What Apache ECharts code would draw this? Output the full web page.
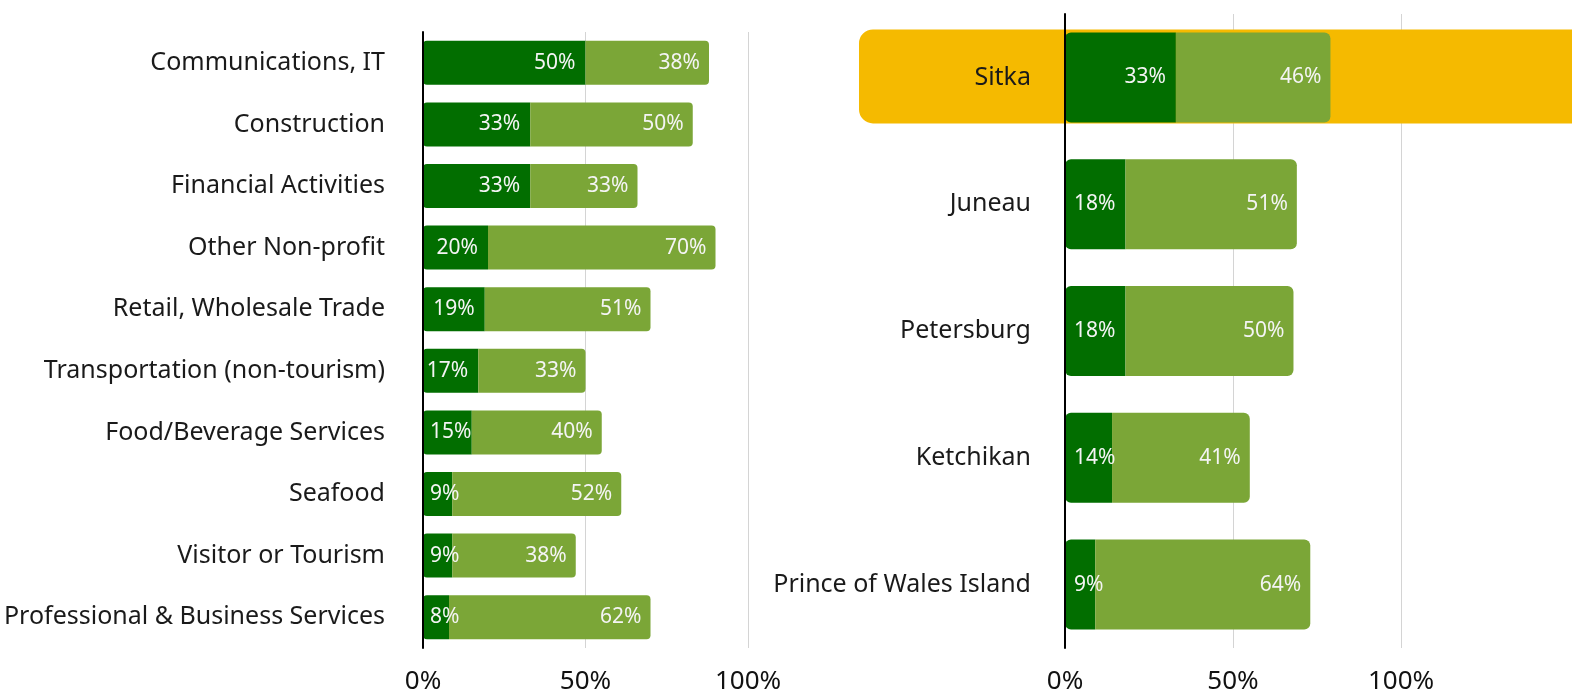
<!DOCTYPE html>
<html>
<head>
<meta charset="utf-8">
<script src="https://cdn.jsdelivr.net/npm/echarts@6/dist/echarts.min.js"></script>
<style>
  html, body { margin: 0; padding: 0; background: #fff; }
  #chart { width: 1572px; height: 696px; }
</style>
</head>
<body>
<div id="chart"></div>
<script>
// left panel: industry
const sectors = ['Communications, IT', 'Construction', 'Financial Activities', 'Other Non-profit',
  'Retail, Wholesale Trade', 'Transportation (non-tourism)', 'Food/Beverage Services', 'Seafood',
  'Visitor or Tourism', 'Professional & Business Services'];
const sectorDark = [50, 33, 33, 20, 19, 17, 15, 9, 9, 8];
const sectorLight = [38, 50, 33, 70, 51, 33, 40, 52, 38, 62];

// right panel: community
const towns = ['Sitka', 'Juneau', 'Petersburg', 'Ketchikan', 'Prince of Wales Island'];
const townDark = [33, 18, 18, 14, 9];
const townLight = [46, 51, 50, 41, 64];
const highlightTown = 'Sitka';

const leftTicks = [0, 50, 100];
const rightTicks = [0, 50, 100];

const DARK = '#026e00';
const LIGHT = '#7ba637';
const FONT = 'Noto Sans';

let chart = echarts.init(document.getElementById('chart'));

function darkData(vals, dist) {
  return vals.map(v => ({
    value: v,
    label: v < 16 ? { position: 'insideLeft', distance: dist } : { position: 'insideRight', distance: 10 }
  }));
}

const barLabel = {
  show: true, color: '#f4f4f4', fontSize: 21, fontFamily: FONT,
  formatter: p => p.value + '%'
};

chart.setOption({
  animation: false,
  grid: [
    { left: 423, width: 325, top: 32, bottom: 48 },
    { left: 1065, width: 512, top: 14, bottom: 48 }
  ],
  xAxis: [
    {
      gridIndex: 0, type: 'value', min: 0, max: 100, interval: 50,
      axisLine: { show: false }, axisTick: { show: false },
      splitLine: { lineStyle: { color: '#d4d4d4', width: 1 } },
      axisLabel: { fontSize: 26, color: '#111', fontFamily: FONT, margin: 21,
        formatter: v => leftTicks.includes(v) ? v + '%' : '' }
    },
    {
      gridIndex: 1, type: 'value', min: 0, max: 150, interval: 50,
      axisLine: { show: false }, axisTick: { show: false },
      splitLine: { lineStyle: { color: ['#d4d4d4', '#d4d4d4', '#d4d4d4', 'rgba(0,0,0,0)'], width: 1 } },
      axisLabel: { fontSize: 26, color: '#111', fontFamily: FONT, margin: 21,
        formatter: v => rightTicks.includes(v) ? v + '%' : '' }
    }
  ],
  yAxis: [
    {
      gridIndex: 0, type: 'category', data: sectors, inverse: true, z: 3,
      axisLine: { lineStyle: { color: '#000', width: 2 } }, axisTick: { show: false },
      axisLabel: { fontSize: 25, color: '#1a1a1a', fontFamily: FONT, margin: 38 }
    },
    {
      gridIndex: 1, type: 'category', data: towns, inverse: true, z: 3,
      axisLine: { lineStyle: { color: '#000', width: 2 } }, axisTick: { show: false },
      axisLabel: { fontSize: 25, color: '#1a1a1a', fontFamily: FONT, margin: 34 }
    }
  ],
  series: [
    { type: 'bar', xAxisIndex: 0, yAxisIndex: 0, stack: 'l', barWidth: '71.5%',
      itemStyle: { color: DARK, borderRadius: [4, 0, 0, 4] },
      label: barLabel, data: darkData(sectorDark, 7) },
    { type: 'bar', xAxisIndex: 0, yAxisIndex: 0, stack: 'l', barWidth: '71.5%',
      itemStyle: { color: LIGHT, borderRadius: [0, 4, 4, 0] },
      label: Object.assign({ position: 'insideRight', distance: 9 }, barLabel), data: sectorLight },
    { type: 'bar', xAxisIndex: 1, yAxisIndex: 1, stack: 'r', barWidth: '71%',
      itemStyle: { color: DARK, borderRadius: [6, 0, 0, 6] },
      label: barLabel, data: darkData(townDark, 9) },
    { type: 'bar', xAxisIndex: 1, yAxisIndex: 1, stack: 'r', barWidth: '71%',
      itemStyle: { color: LIGHT, borderRadius: [0, 6, 6, 0] },
      label: Object.assign({ position: 'insideRight', distance: 9 }, barLabel), data: townLight }
  ]
});

// yellow band behind the highlighted town
const cy = chart.convertToPixel({ yAxisIndex: 1 }, highlightTown);
const x0 = chart.convertToPixel({ xAxisIndex: 1 }, 0);
chart.setOption({
  graphic: [{
    type: 'rect', z: 1, silent: true,
    shape: { x: x0 - 206, y: cy - 48, width: 1572 - (x0 - 206), height: 94, r: [14, 0, 0, 14] },
    style: { fill: '#f5ba00' }
  }]
});
</script>
</body>
</html>
